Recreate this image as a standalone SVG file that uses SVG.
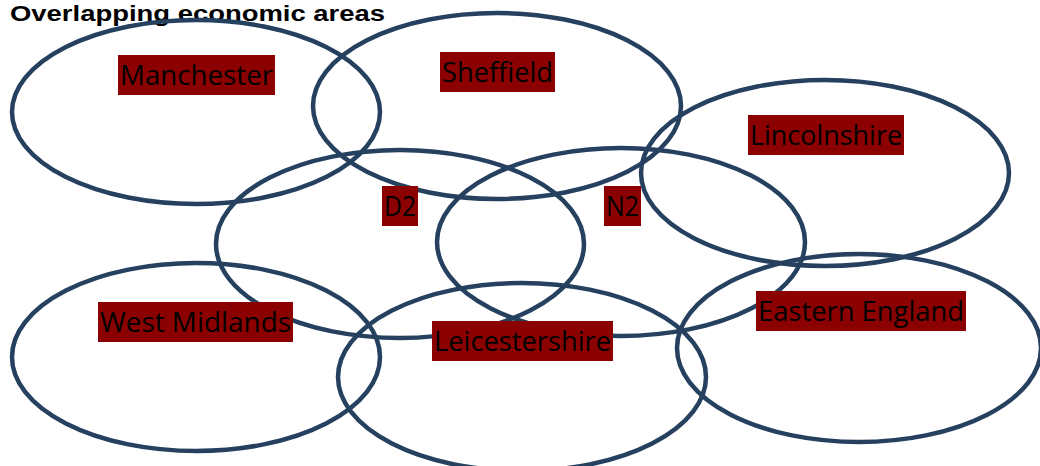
<svg xmlns="http://www.w3.org/2000/svg" width="1040" height="466" viewBox="0 0 1040 466">
<style>
.area{fill:none;stroke:#26405f;stroke-width:4.5}
.bg{fill:#8b0000}
.lbl{font-family:"Open Sans","Liberation Sans",Arial,sans-serif;font-size:28px;fill:#000;text-anchor:middle}
.title{font-family:"Liberation Sans",Arial,sans-serif;font-size:22px;font-weight:bold;fill:#000}
</style>
<rect width="1040" height="466" fill="#fff"/>
<text class="title" x="10" y="20.5" textLength="375" lengthAdjust="spacingAndGlyphs">Overlapping economic areas</text>
<g id="shapes">
<ellipse class="area" cx="196" cy="112" rx="184" ry="92"/>
<ellipse class="area" cx="497" cy="106" rx="184" ry="93"/>
<ellipse class="area" cx="825" cy="173" rx="184" ry="93"/>
<ellipse class="area" cx="400" cy="244" rx="184" ry="94"/>
<ellipse class="area" cx="621" cy="242" rx="184" ry="94"/>
<ellipse class="area" cx="196" cy="357" rx="184" ry="94"/>
<ellipse class="area" cx="522" cy="377" rx="184" ry="94"/>
<ellipse class="area" cx="859" cy="348" rx="182" ry="94"/>
</g>
<g id="manchester"><rect class="bg" x="118" y="55" width="157" height="40"/><text class="lbl" x="196.5" y="85" textLength="153" lengthAdjust="spacingAndGlyphs">Manchester</text></g>
<g id="sheffield"><rect class="bg" x="440" y="52" width="115" height="40"/><text class="lbl" x="497.5" y="82" textLength="111" lengthAdjust="spacingAndGlyphs">Sheffield</text></g>
<g id="lincolnshire"><rect class="bg" x="748" y="115" width="156" height="40"/><text class="lbl" x="826" y="145" textLength="152" lengthAdjust="spacingAndGlyphs">Lincolnshire</text></g>
<g id="d2"><rect class="bg" x="382" y="186" width="36" height="40"/><text class="lbl" x="400" y="216" textLength="32" lengthAdjust="spacingAndGlyphs">D2</text></g>
<g id="n2"><rect class="bg" x="604" y="186" width="37" height="40"/><text class="lbl" x="622.5" y="216" textLength="33" lengthAdjust="spacingAndGlyphs">N2</text></g>
<g id="west-midlands"><rect class="bg" x="98" y="302" width="195" height="40"/><text class="lbl" x="195.5" y="332" textLength="191" lengthAdjust="spacingAndGlyphs">West Midlands</text></g>
<g id="leicestershire"><rect class="bg" x="432" y="321" width="181" height="40"/><text class="lbl" x="522.5" y="351" textLength="177" lengthAdjust="spacingAndGlyphs">Leicestershire</text></g>
<g id="eastern-england"><rect class="bg" x="756" y="291" width="210" height="40"/><text class="lbl" x="861" y="321" textLength="206" lengthAdjust="spacingAndGlyphs">Eastern England</text></g>
</svg>
